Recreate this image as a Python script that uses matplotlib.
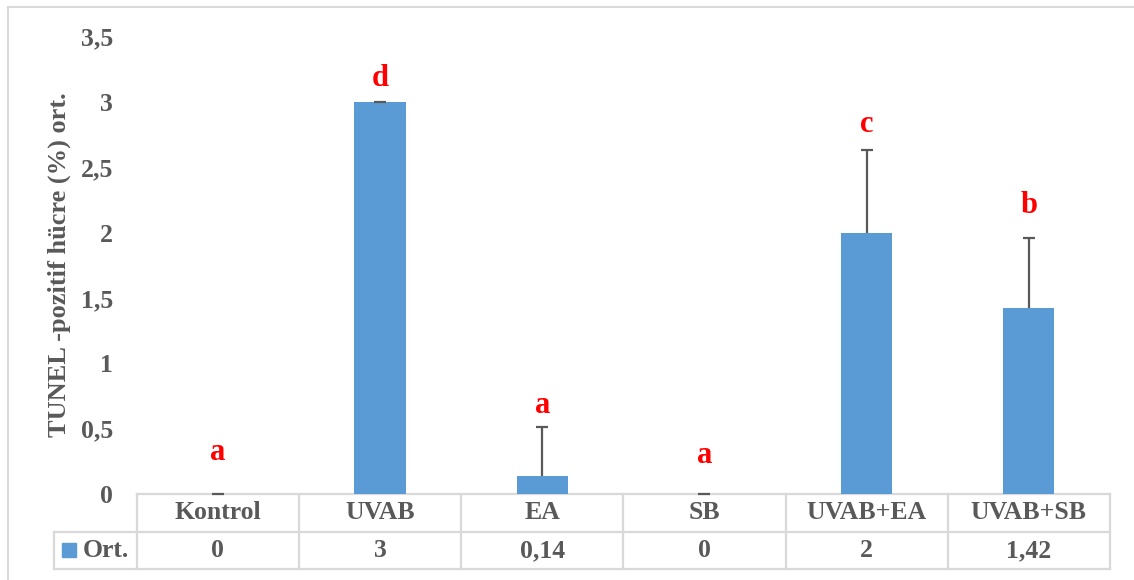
import numpy as np
import matplotlib
matplotlib.use('Agg')
import matplotlib.pyplot as plt
from matplotlib.patches import Rectangle
from matplotlib.ticker import FuncFormatter
import matplotlib.transforms as mtransforms

plt.rcParams['font.family'] = ['Liberation Serif', 'DejaVu Serif']
plt.rcParams['font.weight'] = 'bold'

# data
groups = ['Kontrol', 'UVAB', 'EA', 'SB', 'UVAB+EA', 'UVAB+SB']
means = [0, 3, 0.14, 0, 2, 1.42]
errs = [0, 0, 0.37, 0, 0.63, 0.54]
letters = ['a', 'd', 'a', 'a', 'c', 'b']
letter_y = [0.26, 3.12, 0.62, 0.24, 2.77, 2.15]
table_vals = ['0', '3', '0,14', '0', '2', '1,42']
series_name = 'Ort.'
ylabel = 'TUNEL -pozitif hücre (%) ort.'

bar_col = '#5B9BD5'
txt_col = '#595959'
grid_col = '#D9D9D9'

fig = plt.figure(figsize=(11.34, 5.8), dpi=100)
ax = fig.add_axes([0.1205, 0.1483, 0.8583, 0.7888])

x = np.arange(len(groups))
m = np.array(means)
e = np.array(errs)
ax.bar(x, m, width=0.315, color=bar_col, zorder=2)
# upper error only, cap on top
ax.errorbar(x, m, yerr=[np.zeros(len(e)), e], fmt='none',
            ecolor=txt_col, elinewidth=1.6, capsize=0, zorder=3)
ax.plot(x, m + e, ls='none', marker='_', ms=8.8, mew=1.6, color=txt_col,
        zorder=3, clip_on=False)

for xi, l, ly in zip(x, letters, letter_y):
    ax.text(xi, ly, l, color='red', fontsize=22, fontweight='bold',
            ha='center', va='baseline')

ax.set_xlim(-0.5, len(groups) - 0.5)
ax.set_ylim(0, 3.5)
ax.set_yticks(np.arange(0, 3.51, 0.5))
ax.yaxis.set_major_formatter(FuncFormatter(lambda v, p: ('%g' % v).replace('.', ',')))
ax.tick_params(axis='y', length=0, pad=17, labelsize=18.5, labelcolor=txt_col)
ax.set_xticks([])
for s in ax.spines.values():
    s.set_visible(False)

# data table below the plot
tr = mtransforms.blended_transform_factory(ax.transData, ax.transAxes)
r1 = -0.0831
r2 = -0.1639
left = -1.01
kw = dict(color=grid_col, lw=1.6, transform=tr, clip_on=False, zorder=1)
ax.plot([-0.5, 5.5], [0, 0], **kw)
ax.plot([left, 5.5], [r1, r1], **kw)
ax.plot([left, 5.5], [r2, r2], **kw)
ax.plot([left, left], [r1, r2], **kw)
for b in np.arange(-0.5, len(groups), 1.0):
    ax.plot([b, b], [0, r2], **kw)

for xi, g, v in zip(x, groups, table_vals):
    ax.text(xi, r1 / 2, g, ha='center', va='center', fontsize=18.5,
            color=txt_col, transform=tr, clip_on=False)
    ax.text(xi, (r1 + r2) / 2, v, ha='center', va='center', fontsize=18.5,
            color=txt_col, transform=tr, clip_on=False)

ax.add_patch(Rectangle((-0.96, -0.1377), 0.0845, 0.0306, color=bar_col,
                       transform=tr, clip_on=False))
ax.text(-0.833, (r1 + r2) / 2, series_name, ha='left', va='center', fontsize=18.5,
        color=txt_col, transform=tr, clip_on=False)

fig.text(59 / 1134, 1 - 265 / 580, ylabel, rotation=90, ha='center', va='center',
         fontsize=19, color=txt_col, fontweight='bold')

# chart area border
fig.add_artist(Rectangle((7.5 / 1134, -0.1), 1.2, 1.1 - 7 / 580, fill=False,
                         edgecolor=grid_col, lw=1.5, transform=fig.transFigure))

fig.savefig('out.png', dpi=100)
